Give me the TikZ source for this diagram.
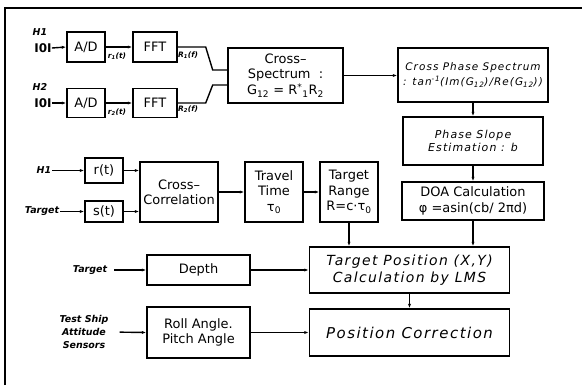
\documentclass[tikz,border=0pt]{standalone}
\usepackage{fontspec}
\setmainfont{DejaVu Sans}
\newfontfamily\slfont[LetterSpace=10]{DejaVu Sans}
\usetikzlibrary{arrows.meta}
\begin{document}
\begin{tikzpicture}[x=1bp, y=-1bp,
  blk/.style={draw, line width=1.4bp, inner sep=0pt, align=center, font=\fontsize{13}{15.5}\selectfont},
  slblk/.style={blk, font=\slfont\itshape\fontsize{10.5}{14.5}\selectfont},
  tag/.style={inner sep=1bp, align=center, font=\bfseries\itshape\fontsize{9.5}{13}\selectfont},
  sig/.style={inner sep=0pt, font=\bfseries\itshape\fontsize{7.5}{8}\selectfont},
  wire/.style={line width=1.4bp},
  arr/.style={wire, -{Latex[length=4.5bp,width=3.2bp]}}]
\useasboundingbox (0,0) rectangle (582,385);
\draw[line width=2.6bp] (5,385) -- (5,8) -- (582,8);
\node[tag] (h1) at (40,32) {H1};
\node[inner sep=0pt, font=\bfseries\fontsize{12}{12}\selectfont] (hyd1) at (43,48) {I0I};
\node[blk, minimum width=38bp, minimum height=30bp] (ad1) at (86,47) {A/D};
\node[blk, minimum width=44bp, minimum height=30bp] (fft1) at (155,47) {FFT};
\node[sig] (r1) at (117,56) {r\textsubscript{1}(t)};
\node[sig] (R1) at (188,55) {R\textsubscript{1}(f)};
\node[tag] (h2) at (40,87) {H2};
\node[inner sep=0pt, font=\bfseries\fontsize{12}{12}\selectfont] (hyd2) at (43,103) {I0I};
\node[blk, minimum width=38bp, minimum height=29bp] (ad2) at (86,103) {A/D};
\node[blk, minimum width=44bp, minimum height=29bp] (fft2) at (155,103) {FFT};
\node[sig] (r2) at (117,112) {r\textsubscript{2}(t)};
\node[sig] (R2) at (188,109) {R\textsubscript{2}(f)};
\draw[arr] (hyd1.east) -- (ad1.west);
\draw[arr] (ad1.east) -- (fft1.west);
\draw[arr] (hyd2.east) -- (ad2.west);
\draw[arr] (ad2.east) -- (fft2.west);
\node[blk, minimum width=115bp, minimum height=55bp] (xspec) at (285.5,75.5) {Cross--\\Spectrum\ \ :\\[1bp]G\textsubscript{12} = R\textsuperscript{*}\textsubscript{1}R\textsubscript{2}};
\draw[wire] (fft1.east) -- ++(28,0) -- ++(7,23) -- ([yshift=5.5bp]xspec.west);
\draw[wire] (fft2.east) -- ++(28,0) -- ++(7,-18) -- ([yshift=-9.5bp]xspec.west);
\node[slblk, minimum width=150bp, minimum height=54bp] (xphase) at (473,75) {Cross Phase Spectrum\\: tan\textsuperscript{-1}(Im(G\textsubscript{12})/Re(G\textsubscript{12}))};
\draw[arr] (xspec.east) -- (xspec.east -| xphase.west);
\node[slblk, font=\slfont\itshape\fontsize{11}{13.5}\selectfont, minimum width=140bp, minimum height=48bp] (slope) at (473,141) {Phase Slope\\Estimation : b};
\node[blk, minimum width=142bp, minimum height=38bp] (doa) at (473,201) {DOA Calculation\\φ =asin(cb/ 2πd)};
\draw[arr] (xphase) -- (slope);
\draw[arr] (slope) -- (doa);
\node[tag] (h1b) at (44,170.5) {H1};
\node[tag] (tgt1) at (42,211.5) {Target};
\node[blk, minimum width=38bp, minimum height=25bp] (rt) at (104,170.5) {r(t)};
\node[blk, minimum width=38bp, minimum height=21bp] (st) at (104,211.5) {s(t)};
\draw[arr] (h1b.east) -- (rt.west);
\draw[arr] (tgt1.east) -- (st.west);
\node[blk, minimum width=78bp, minimum height=60bp] (xcorr) at (179,192) {Cross--\\Correlation};
\draw[arr] (rt.east) -- (rt.east -| xcorr.west);
\draw[arr] (st.east) -- (st.east -| xcorr.west);
\node[blk, minimum width=58bp, minimum height=60bp] (travel) at (274,192) {Travel\\Time\\τ\textsubscript{0}};
\node[blk, minimum width=58bp, minimum height=60bp] (range) at (349,192) {Target\\Range\\R=c·τ\textsubscript{0}};
\draw[arr] (xcorr) -- (travel);
\draw[arr] (travel) -- (range);
\node[slblk, font=\slfont\itshape\fontsize{14}{17.5}\selectfont, minimum width=200bp, minimum height=46bp] (tpos) at (409.5,270) {Target Position (X,Y)\\Calculation by LMS};
\draw[arr] (range.south) -- (range.south |- tpos.north);
\draw[arr] (doa.south) -- (doa.south |- tpos.north);
\node[slblk, font=\slfont\itshape\fontsize{15}{18}\selectfont, minimum width=200bp, minimum height=47bp] (pcorr) at (409.5,332.5) {Position Correction};
\draw[arr] (tpos) -- (pcorr);
\node[tag] (tgt2) at (90,270) {Target};
\node[blk, minimum width=103bp, minimum height=30bp] (depth) at (198.5,270) {Depth};
\draw[arr, shorten <=6bp] (tgt2.east) -- (depth.west);
\draw[arr] (depth.east) -- (depth.east -| tpos.west);
\node[tag, font=\bfseries\itshape\fontsize{9.5}{13}\selectfont] (ship) at (84,332) {Test Ship\\Attitude\\Sensors};
\node[blk, minimum width=103bp, minimum height=51bp] (roll) at (198.5,332.5) {Roll Angle.\\Pitch Angle};
\draw[arr, shorten <=10bp] (ship.east) -- (roll.west);
\draw[arr] (roll.east) -- (roll.east -| pcorr.west);
\end{tikzpicture}
\end{document}
